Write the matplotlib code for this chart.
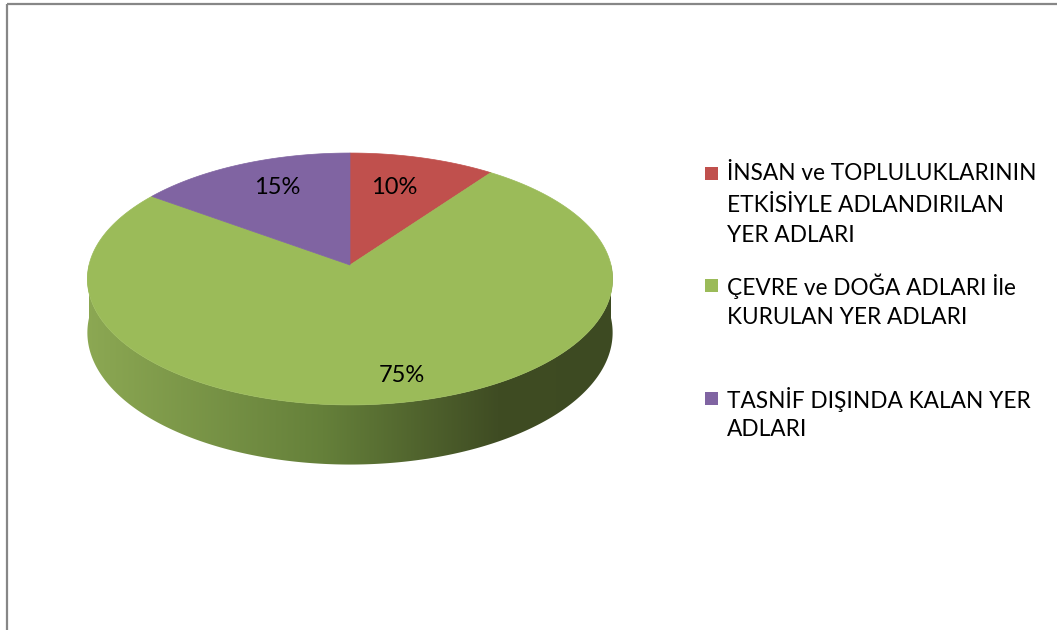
import numpy as np
import matplotlib
matplotlib.use("Agg")
import matplotlib.pyplot as plt
from matplotlib.patches import Polygon, Rectangle
from matplotlib.colors import LinearSegmentedColormap

plt.rcParams['font.family'] = ['Lato', 'DejaVu Sans']

# veriler
labels = ["İNSAN ve TOPLULUKLARININ\nETKİSİYLE ADLANDIRILAN\nYER ADLARI",
          "ÇEVRE ve DOĞA ADLARI İle\nKURULAN YER ADLARI",
          "TASNİF DIŞINDA KALAN YER\nADLARI"]
shares = [10, 75, 15]
colors = ["#C0504D", "#9BBB59", "#8064A2"]

# görünüm (piksel)
W, H = 1057, 630
cx, cy = 350, 265          # pastanın merkezi
R, B, K, D = 261, 124.4, 0.111, 53   # yarıçap, eğim, perspektif, kalınlık
label_r = [0.69, 0.83, 0.73]
label_shift = [-2.6, -3.6, 2.7]     # etiket açısı kayması (derece)


def proj(theta_deg, r=1.0, drop=0.0):
    # saat yönünde, tepeden ölçülen açıyı ekrana çevir
    t = np.radians(theta_deg)
    u = r * np.sin(t)
    v = r * np.cos(t)
    w = 1 + K * v
    return cx + R * u / w, cy - B * v / w + drop / w


fig = plt.figure(figsize=(W / 100, H / 100), dpi=100)
ax = fig.add_axes([0, 0, 1, 1])

# yan yüzey (ön yarı), soldan sağa koyulaşan gradyan
th = np.linspace(90, 270, 300)
xt, yt = proj(th)
xb, yb = proj(th, drop=D)
side = Polygon(np.column_stack([np.r_[xt, xb[::-1]], np.r_[yt, yb[::-1]]]),
               closed=True, fc='none', ec='none')
ax.add_patch(side)
side_cmap = LinearSegmentedColormap.from_list(
    'side', [(0, '#8CA853'), (0.45, '#65803A'), (0.78, '#3F4C23'), (1, '#3D4A22')])
x0, x1 = xt.min() - 2, xt.max() + 2
im = ax.imshow(np.linspace(0, 1, 256)[None, :], cmap=side_cmap,
               extent=[x0, x1, yb.max() + 2, yt.min() - 2],
               aspect='auto', zorder=1, interpolation='bilinear')
im.set_clip_path(side)

# üst yüzey dilimleri
start = 0.0
total = float(sum(shares))
for i, s in enumerate(shares):
    end = start + 360.0 * s / total
    a = np.linspace(start, end, 200)
    px, py = proj(a)
    pts = np.column_stack([np.r_[cx, px], np.r_[cy, py]])
    ax.add_patch(Polygon(pts, closed=True, fc=colors[i], ec=colors[i],
                         lw=0.5, zorder=2))
    lx, ly = proj((start + end) / 2 + label_shift[i], r=label_r[i])
    ax.text(lx, ly, f"{s}%", ha='center', va='center', fontsize=17,
            color='black', zorder=3)
    start = end

# lejant
leg_y = [174, 286, 399]
line_h = 31
for i, lab in enumerate(labels):
    ax.add_patch(Rectangle((705, leg_y[i] - 7), 13, 13, fc=colors[i], ec='none'))
    for j, line in enumerate(lab.split('\n')):
        ax.text(727, leg_y[i] + j * line_h, line, ha='left', va='center',
                fontsize=16.3, color='black')

# çerçeve
ax.plot([7, 7], [4, H], color='#878787', lw=1.6, solid_capstyle='butt')
ax.plot([7, W], [4, 4], color='#878787', lw=1.6, solid_capstyle='butt')

ax.set_xlim(0, W)
ax.set_ylim(H, 0)
ax.axis('off')

fig.savefig('out.png', dpi=100)
